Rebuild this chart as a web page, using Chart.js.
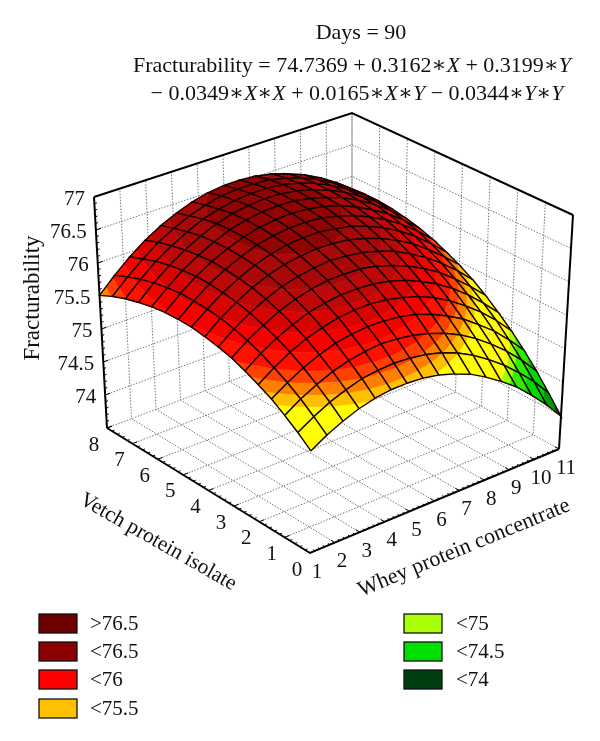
<!DOCTYPE html>
<html lang="en">
<head>
  <meta charset="UTF-8" />
  <title>Fracturability surface - Days 90</title>
  <script src="https://cdn.jsdelivr.net/npm/chart.js"></script>
  <style>
    html, body { margin: 0; padding: 0; background: #fff; }
    canvas { display: block; }
  </style>
</head>
<body>
  <canvas id="surfaceChart" width="600" height="741"></canvas>

  <script>
    // Axis values
    const wheyValues = [1, 1.625, 2.25, 2.875, 3.5, 4.125, 4.75, 5.375, 6, 6.625, 7.25, 7.875, 8.5, 9.125, 9.75, 10.375, 11];
    const vetchValues = [0, 0.5, 1, 1.5, 2, 2.5, 3, 3.5, 4, 4.5, 5, 5.5, 6, 6.5, 7, 7.5, 8];
    const wheyTicks = [1, 2, 3, 4, 5, 6, 7, 8, 9, 10, 11];
    const vetchTicks = [0, 1, 2, 3, 4, 5, 6, 7, 8];
    const zTicks = [74, 74.5, 75, 75.5, 76, 76.5, 77];

    // Fracturability, one row per vetch value, one column per whey value
    const fracturability = [
      [75.02, 75.16, 75.27, 75.36, 75.42, 75.45, 75.45, 75.43, 75.38, 75.30, 75.20, 75.06, 74.90, 74.72, 74.50, 74.26, 73.99],
      [75.18, 75.32, 75.44, 75.53, 75.60, 75.63, 75.64, 75.62, 75.58, 75.51, 75.41, 75.28, 75.12, 74.94, 74.73, 74.50, 74.23],
      [75.32, 75.47, 75.59, 75.69, 75.76, 75.80, 75.82, 75.80, 75.76, 75.69, 75.60, 75.48, 75.33, 75.15, 74.95, 74.72, 74.46],
      [75.45, 75.60, 75.73, 75.83, 75.91, 75.95, 75.97, 75.96, 75.93, 75.87, 75.78, 75.66, 75.52, 75.34, 75.15, 74.92, 74.67],
      [75.55, 75.71, 75.85, 75.96, 76.03, 76.09, 76.11, 76.11, 76.08, 76.02, 75.94, 75.83, 75.69, 75.52, 75.33, 75.11, 74.86],
      [75.64, 75.81, 75.95, 76.06, 76.15, 76.20, 76.23, 76.23, 76.21, 76.16, 76.08, 75.97, 75.84, 75.68, 75.49, 75.27, 75.03],
      [75.72, 75.89, 76.03, 76.15, 76.24, 76.30, 76.34, 76.34, 76.33, 76.28, 76.20, 76.10, 75.97, 75.82, 75.63, 75.42, 75.19],
      [75.77, 75.95, 76.10, 76.22, 76.32, 76.38, 76.42, 76.44, 76.42, 76.38, 76.31, 76.22, 76.09, 75.94, 75.76, 75.56, 75.33],
      [75.81, 76.00, 76.15, 76.28, 76.38, 76.45, 76.49, 76.51, 76.50, 76.47, 76.40, 76.31, 76.19, 76.05, 75.87, 75.67, 75.45],
      [75.84, 76.02, 76.18, 76.31, 76.42, 76.50, 76.55, 76.57, 76.57, 76.53, 76.48, 76.39, 76.28, 76.14, 75.97, 75.77, 75.55],
      [75.84, 76.03, 76.20, 76.33, 76.44, 76.53, 76.58, 76.61, 76.61, 76.59, 76.53, 76.45, 76.34, 76.21, 76.05, 75.86, 75.64],
      [75.83, 76.03, 76.20, 76.34, 76.45, 76.54, 76.60, 76.63, 76.64, 76.62, 76.57, 76.50, 76.39, 76.26, 76.11, 75.92, 75.71],
      [75.80, 76.00, 76.18, 76.32, 76.44, 76.54, 76.60, 76.64, 76.65, 76.64, 76.59, 76.52, 76.43, 76.30, 76.15, 75.97, 75.76],
      [75.75, 75.96, 76.14, 76.29, 76.42, 76.52, 76.59, 76.63, 76.65, 76.64, 76.60, 76.53, 76.44, 76.32, 76.17, 76.00, 75.80],
      [75.69, 75.90, 76.09, 76.24, 76.37, 76.48, 76.55, 76.60, 76.62, 76.62, 76.59, 76.53, 76.44, 76.32, 76.18, 76.01, 75.82],
      [75.61, 75.82, 76.01, 76.18, 76.31, 76.42, 76.50, 76.56, 76.58, 76.58, 76.56, 76.50, 76.42, 76.31, 76.17, 76.01, 75.82],
      [75.51, 75.73, 75.93, 76.10, 76.24, 76.35, 76.44, 76.50, 76.53, 76.53, 76.51, 76.46, 76.38, 76.28, 76.15, 75.99, 75.80]
    ];

    // Colour steps of the surface: bandColors[i] fills bandEdges[i]..bandEdges[i + 1]
    const bandEdges = [70, 74.1, 74.3, 74.6, 74.8, 74.9, 75.4, 75.5, 75.6, 75.7, 75.85, 76, 76.15, 76.3, 76.5, 80];
    const bandColors = ['#005a10', '#009a08', '#00d800', '#30ec00', '#a0ff00', '#ffff00', '#ffc000', '#ff8000', '#ff4000', '#ff1000', '#f80000', '#d80404', '#bc0808', '#a80808', '#920404'];

    const legendLeftLabels = ['>76.5', '<76.5', '<76', '<75.5'];
    const legendLeftColors = ['#6e0000', '#8b0000', '#ff0000', '#ffc000'];
    const legendRightLabels = ['<75', '<74.5', '<74'];
    const legendRightColors = ['#aaff00', '#00e000', '#004010'];

    // Pixel position of the 8 box corners, used to project x / y / z on the page
    const box = {
      floor: { front: [310, 553], right: [559, 449], left: [107, 428], back: [352, 335] },
      roof: { front: [312, 318], right: [573, 215], left: [94, 197], back: [352, 113] }
    };
    const xRange = [1, 11], yRange = [0, 8], zRange = [73.5, 77];

    function project(x, y, z) {
      const u = (x - xRange[0]) / (xRange[1] - xRange[0]);
      const v = (y - yRange[0]) / (yRange[1] - yRange[0]);
      const w = (z - zRange[0]) / (zRange[1] - zRange[0]);
      const mix = (c) =>
        (1 - u) * (1 - v) * c.front[0] + u * (1 - v) * c.right[0] + (1 - u) * v * c.left[0] + u * v * c.back[0];
      const miy = (c) =>
        (1 - u) * (1 - v) * c.front[1] + u * (1 - v) * c.right[1] + (1 - u) * v * c.left[1] + u * v * c.back[1];
      return {
        x: mix(box.floor) * (1 - w) + mix(box.roof) * w,
        y: miy(box.floor) * (1 - w) + miy(box.roof) * w
      };
    }

    // keep the part of a polygon between two z levels
    function clipAt(poly, level, keepAbove) {
      const out = [];
      for (let i = 0; i < poly.length; i++) {
        const a = poly[i], b = poly[(i + 1) % poly.length];
        const aIn = keepAbove ? a[2] >= level : a[2] <= level;
        const bIn = keepAbove ? b[2] >= level : b[2] <= level;
        if (aIn) out.push(a);
        if (aIn !== bIn) {
          const t = (level - a[2]) / (b[2] - a[2]);
          out.push([a[0] + t * (b[0] - a[0]), a[1] + t * (b[1] - a[1]), level]);
        }
      }
      return out;
    }

    const datasets = [];

    function addLine(points, color, width, dash) {
      datasets.push({
        data: points.map(p => project(p[0], p[1], p[2])),
        showLine: true,
        fill: false,
        borderColor: color,
        borderWidth: width,
        borderDash: dash || [],
        pointRadius: 0
      });
    }

    // Surface, front cells first because the first dataset ends up on top
    for (let j = 0; j < vetchValues.length - 1; j++) {
      for (let i = 0; i < wheyValues.length - 1; i++) {
        const cell = [
          [wheyValues[i], vetchValues[j], fracturability[j][i]],
          [wheyValues[i + 1], vetchValues[j], fracturability[j][i + 1]],
          [wheyValues[i + 1], vetchValues[j + 1], fracturability[j + 1][i + 1]],
          [wheyValues[i], vetchValues[j + 1], fracturability[j + 1][i]]
        ];
        addLine(cell.concat([cell[0]]), '#150000', 1.4);
        bandColors.forEach((color, b) => {
          const part = clipAt(clipAt(cell, bandEdges[b], true), bandEdges[b + 1], false);
          if (part.length < 3) return;
          datasets.push({
            data: part.concat([part[0]]).map(p => project(p[0], p[1], p[2])),
            showLine: true,
            fill: 'shape',
            backgroundColor: color,
            borderColor: color,
            borderWidth: 0.6,
            pointRadius: 0
          });
        });
      }
    }

    // Box edges and ticks
    const axisColor = '#000';
    addLine([[1, 8, 77], [11, 8, 77], [11, 0, 77]], axisColor, 2);
    addLine([[1, 8, 73.5], [1, 8, 77]], axisColor, 2);
    addLine([[11, 0, 73.5], [11, 0, 77]], axisColor, 2);
    addLine([[1, 8, 73.5], [1, 0, 73.5], [11, 0, 73.5]], axisColor, 2);

    for (let k = 0; k <= 50; k++) {
      const x = 1 + k * 0.2;
      addLine([[x, 0, 73.5], [x, k % 5 === 0 ? 0.16 : 0.08, 73.5]], axisColor, 1);
    }
    for (let k = 0; k <= 40; k++) {
      const y = k * 0.2;
      addLine([[1, y, 73.5], [k % 5 === 0 ? 1.2 : 1.1, y, 73.5]], axisColor, 1);
    }
    for (let k = 0; k <= 35; k++) {
      const z = 73.5 + k * 0.1;
      addLine([[1, 8, z], [k % 5 === 0 ? 1.2 : 1.1, 8, z]], axisColor, 1);
    }

    // Dotted grid on the floor and the two back walls
    const gridColor = '#777';
    const gridDash = [1.5, 1.5];
    wheyTicks.slice(1).forEach(x => {
      addLine([[x, 0, 73.5], [x, 8, 73.5], [x, 8, 77]], gridColor, 1, gridDash);
    });
    vetchTicks.slice(1).forEach(y => {
      addLine([[1, y, 73.5], [11, y, 73.5], [11, y, 77]], gridColor, 1, gridDash);
    });
    zTicks.slice(0, -1).forEach(z => {
      addLine([[1, 8, z], [11, 8, z], [11, 0, z]], gridColor, 1, gridDash);
    });

    const serif = '"Liberation Serif", "DejaVu Serif", serif';

    // Text runs of [string, italic]; the whole line is centred on cx
    function drawRuns(ctx, runs, cx, baseline, size) {
      const fontOf = (it) => (it ? 'italic ' : '') + size + 'px ' + serif;
      let width = 0;
      runs.forEach(r => { ctx.font = fontOf(r[1]); width += ctx.measureText(r[0]).width; });
      let x = cx - width / 2;
      ctx.textAlign = 'left';
      ctx.textBaseline = 'alphabetic';
      runs.forEach(r => {
        ctx.font = fontOf(r[1]);
        ctx.fillText(r[0], x, baseline);
        x += ctx.measureText(r[0]).width;
      });
    }

    function drawRotated(ctx, text, cx, cy, angle, size) {
      ctx.save();
      ctx.translate(cx, cy);
      ctx.rotate(angle * Math.PI / 180);
      ctx.font = size + 'px ' + serif;
      ctx.textAlign = 'center';
      ctx.textBaseline = 'middle';
      ctx.fillText(text, 0, 0);
      ctx.restore();
    }

    function drawLegend(ctx, labels, colors, boxX, textX) {
      const rowY = [614, 642, 670, 699];
      labels.forEach((label, i) => {
        ctx.fillStyle = colors[i];
        ctx.fillRect(boxX, rowY[i], 38, 19);
        ctx.strokeStyle = '#111';
        ctx.lineWidth = 1.3;
        ctx.strokeRect(boxX, rowY[i], 38, 19);
        ctx.fillStyle = '#111';
        ctx.font = '21px ' + serif;
        ctx.textAlign = 'left';
        ctx.textBaseline = 'middle';
        ctx.fillText(label, textX, rowY[i] + 10);
      });
    }

    const chartText = {
      id: 'chartText',
      afterDraw(chart) {
        const ctx = chart.ctx;
        const sx = chart.scales.x, sy = chart.scales.y;
        ctx.save();
        ctx.fillStyle = '#111';

        drawRuns(ctx, [['Days = 90', false]], 361, 39, 22);
        drawRuns(ctx, [['Fracturability = 74.7369 + 0.3162\u2217', false], ['X', true], [' + 0.3199\u2217', false], ['Y', true]], 352, 72, 22);
        drawRuns(ctx, [['\u2212 0.0349\u2217', false], ['X', true], ['\u2217', false], ['X', true], [' + 0.0165\u2217', false], ['X', true], ['\u2217', false], ['Y', true], [' \u2212 0.0344\u2217', false], ['Y', true], ['\u2217', false], ['Y', true]], 357, 100, 22);

        zTicks.forEach(z => {
          const p = project(1, 8, z);
          ctx.font = '21px ' + serif;
          ctx.textAlign = 'right';
          ctx.textBaseline = 'middle';
          ctx.fillText(String(z), sx.getPixelForValue(p.x) - 9, sy.getPixelForValue(p.y) + 2);
        });
        vetchTicks.forEach(y => {
          const p = project(1, y, 73.5);
          ctx.font = '21px ' + serif;
          ctx.textAlign = 'center';
          ctx.textBaseline = 'middle';
          ctx.fillText(String(y), sx.getPixelForValue(p.x) - 13, sy.getPixelForValue(p.y) + 17);
        });
        wheyTicks.forEach(x => {
          const p = project(x, 0, 73.5);
          ctx.font = '21px ' + serif;
          ctx.textAlign = 'center';
          ctx.textBaseline = 'middle';
          ctx.fillText(String(x), sx.getPixelForValue(p.x) + 7, sy.getPixelForValue(p.y) + 19);
        });

        drawRotated(ctx, 'Fracturability', 33, 298, -90, 23);
        drawRotated(ctx, 'Vetch protein isolate', 158, 542, 29.6, 21.5);
        drawRotated(ctx, 'Whey protein concentrate', 464, 548, -22.4, 22);

        drawLegend(ctx, legendLeftLabels, legendLeftColors, 39, 90);
        drawLegend(ctx, legendRightLabels, legendRightColors, 404, 456);
        ctx.restore();
      }
    };

    new Chart(document.getElementById('surfaceChart'), {
      type: 'scatter',
      data: { datasets: datasets },
      options: {
        responsive: false,
        animation: false,
        layout: { padding: 0 },
        scales: {
          x: { type: 'linear', display: false, min: 0, max: 600 },
          y: { type: 'linear', display: false, min: 0, max: 741, reverse: true }
        },
        plugins: {
          legend: { display: false },
          tooltip: { enabled: false }
        }
      },
      plugins: [chartText]
    });
  </script>
</body>
</html>
